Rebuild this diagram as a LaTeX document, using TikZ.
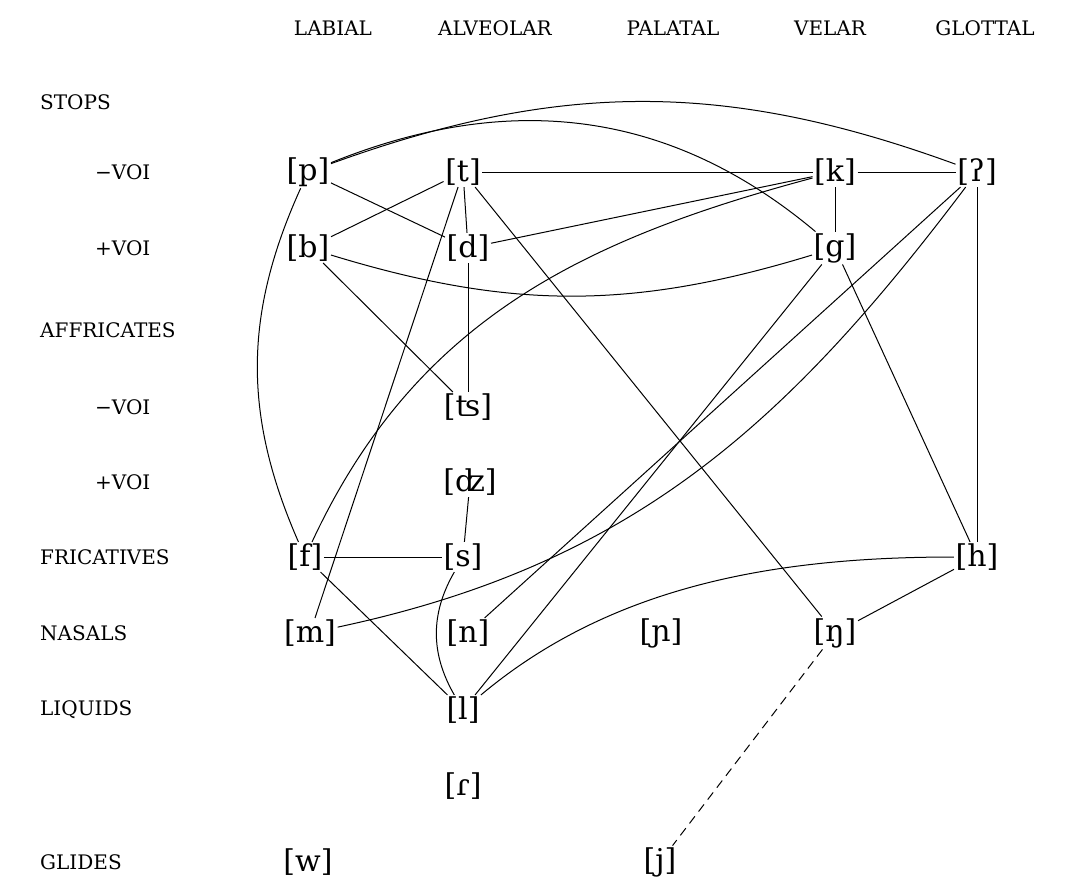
\documentclass[tikz,border=0pt]{standalone}
\usepackage{fontspec}
\setmainfont{DejaVu Serif}
\begin{document}
\begin{tikzpicture}[x=1pt,y=-1pt,
  seg/.style={inner sep=1.5pt, font=\fontsize{30}{32}\selectfont},
  lab/.style={anchor=west, inner sep=0pt, font=\fontsize{20}{23}\selectfont},
  hdr/.style={inner sep=0pt, font=\fontsize{20}{23}\selectfont},
  edge/.style={line width=1pt}]
\useasboundingbox (0,0) rectangle (1081,884);
% headers
\node[hdr] (hLab) at (333,28) {LABIAL};
\node[hdr] (hAlv) at (495,28) {ALVEOLAR};
\node[hdr] (hPal) at (673,28) {PALATAL};
\node[hdr] (hVel) at (830,28) {VELAR};
\node[hdr] (hGlo) at (985,28) {GLOTTAL};
% row labels
\node[lab] (rStops) at (40,102) {STOPS};
\node[lab] (rSv1) at (95,172) {−VOI};
\node[lab] (rSv2) at (95,248) {+VOI};
\node[lab] (rAff) at (40,330) {AFFRICATES};
\node[lab] (rAv1) at (95,407) {−VOI};
\node[lab] (rAv2) at (95,482) {+VOI};
\node[lab] (rFri) at (40,557) {FRICATIVES};
\node[lab] (rNas) at (40,633) {NASALS};
\node[lab] (rLiq) at (40,710) {LIQUIDS};
\node[lab] (rGli) at (40,862) {GLIDES};
% segments
\node[seg] (p) at (308,172) {[p]};
\node[seg] (b) at (308,248) {[b]};
\node[seg] (f) at (305,557) {[f]};
\node[seg] (m) at (310,633) {[m]};
\node[seg] (w) at (308,862) {[w]};
\node[seg] (t) at (463,172) {[t]};
\node[seg] (d) at (468,248) {[d]};
\node[seg] (ts) at (468,407) {[ʦ]};
\node[seg] (dz) at (470,482) {[ʣ]};
\node[seg] (s) at (463,557) {[s]};
\node[seg] (n) at (468,633) {[n]};
\node[seg] (l) at (463,710) {[l]};
\node[seg] (r) at (463,786) {[ɾ]};
\node[seg] (nj) at (661,633) {[ɲ]};
\node[seg] (j) at (660,862) {[j]};
\node[seg] (k) at (835,172) {[k]};
\node[seg] (g) at (835,248) {[g]};
\node[seg] (ng) at (835,633) {[ŋ]};
\node[seg] (q) at (977,172) {[ʔ]};
\node[seg] (h) at (977,557) {[h]};
% straight connectors
\draw[edge] (p) -- (d);
\draw[edge] (t) -- (b);
\draw[edge] (t) -- (d);
\draw[edge] (t) -- (k);
\draw[edge] (t) -- (m);
\draw[edge] (t) -- (ng);
\draw[edge] (b) -- (ts);
\draw[edge] (d) -- (k);
\draw[edge] (d) -- (ts);
\draw[edge] (k) -- (q);
\draw[edge] (k) -- (g);
\draw[edge] (q) -- (h);
\draw[edge] (q) -- (n);
\draw[edge] (g) -- (l);
\draw[edge] (g) -- (h);
\draw[edge] (h) -- (ng);
\draw[edge] (f) -- (s);
\draw[edge] (f) -- (l);
\draw[edge] (dz) -- (s);
\draw[edge, dash pattern=on 9pt off 6pt] (ng) -- (j);
% curved connectors
\draw[edge] (p) to[bend left=20] (q);
\draw[edge] (p) to[out=22, in=140] (g);
\draw[edge] (b) to[bend right=17] (g);
\draw[edge] (p) to[bend right=24] (f);
\draw[edge] (f) to[out=65, in=195] (k);
\draw[edge] (s) to[bend right=30] (l);
\draw[edge] (m) to[out=12, in=233] (q);
\draw[edge] (l) to[out=40, in=180, looseness=0.9] (h);
\end{tikzpicture}
\end{document}
